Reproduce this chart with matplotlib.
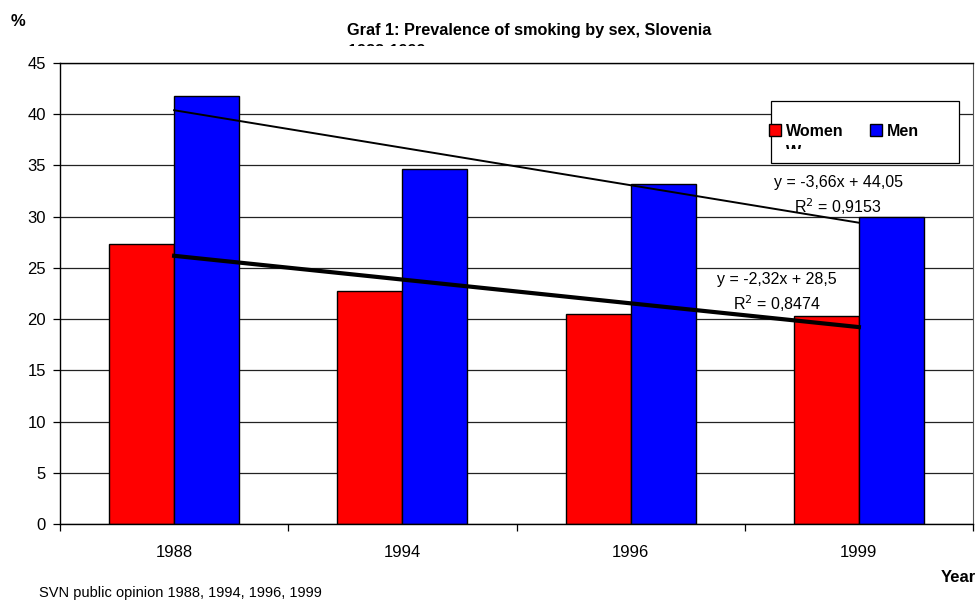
import numpy as np
import matplotlib
matplotlib.use('Agg')
from matplotlib import pyplot as plt
from matplotlib.patches import Rectangle
from matplotlib.transforms import Bbox

plt.rcParams['font.family'] = ['Liberation Sans', 'DejaVu Sans']

years = ['1988', '1994', '1996', '1999']
women = [27.3, 22.7, 20.5, 20.3]
men = [41.8, 34.7, 33.2, 30.0]
# linear trends fitted over x = 1..4
trend_women = (-2.32, 28.5)
trend_men = (-3.66, 44.05)

W, H = 977, 601
fig = plt.figure(figsize=(W / 100, H / 100), dpi=100)
ax = fig.add_axes([60 / W, 77 / H, 913 / W, 461 / H])

x = np.arange(len(years))
w = 0.285
ax.bar(x - w / 2, women, w, color='#ff0000', edgecolor='black', linewidth=1, zorder=2)
ax.bar(x + w / 2, men, w, color='#0000ff', edgecolor='black', linewidth=1, zorder=2)

xt = x + 1
ax.plot(x, trend_men[0] * xt + trend_men[1], color='black', lw=1.4, zorder=3)
ax.plot(x, trend_women[0] * xt + trend_women[1], color='black', lw=3, zorder=3)

ax.set_xlim(-0.5, 3.5)
ax.set_ylim(0, 45)
ax.set_yticks(range(0, 46, 5))
ax.yaxis.grid(True, color='#222222', lw=0.9, zorder=0)
ax.set_axisbelow(True)
ax.set_xticks(x)
ax.set_xticklabels(years)
ax.set_xticks(np.arange(-0.5, 3.6, 1), minor=True)
ax.tick_params(axis='x', which='major', length=0, pad=15, labelsize=12)
ax.tick_params(axis='x', which='minor', length=5, width=0.9)
ax.tick_params(axis='y', length=5, width=0.9, pad=5, labelsize=12)
for side in ['left', 'bottom', 'top']:
    ax.spines[side].set_color('black')
    ax.spines[side].set_linewidth(1)
ax.spines['right'].set_color('#555555')

# trendline equations
ax.text(2.91, 33.3, 'y = -3,66x + 44,05', ha='center', va='center', fontsize=11.5)
ax.text(2.91, 30.95, 'R$^2$ = 0,9153', ha='center', va='center', fontsize=11.5)
ax.text(2.64, 23.9, 'y = -2,32x + 28,5', ha='center', va='center', fontsize=11.5)
ax.text(2.64, 21.5, 'R$^2$ = 0,8474', ha='center', va='center', fontsize=11.5)

# legend: frame drawn separately, entries placed by the legend itself
ax.add_patch(Rectangle((771 / W, 1 - 163 / H), 188 / W, 62 / H,
                       transform=fig.transFigure, fc='white', ec='black',
                       lw=0.9, zorder=5, clip_on=False))
leg = ax.legend(handles=[Rectangle((0, 0), 1, 1, fc='#ff0000', ec='black'),
                         Rectangle((0, 0), 1, 1, fc='#0000ff', ec='black')],
                labels=['Women', 'Men'], ncol=2, loc='center left',
                bbox_to_anchor=(769 / W, 1 - 131 / H),
                bbox_transform=fig.transFigure,
                frameon=False, borderaxespad=0, borderpad=0,
                handlelength=0.75, handleheight=0.8, handletextpad=0.3,
                columnspacing=1.65,
                prop={'weight': 'bold', 'size': 11.5})
leg.set_zorder(6)

wtxt = fig.text(786 / W, 1 - 145 / H, 'W', ha='left', va='top',
                fontsize=11.5, fontweight='bold', zorder=7)
wtxt.set_clip_box(Bbox.from_extents(0, H - 148.5, W, H))
wtxt.set_clip_on(True)

fig.text(529 / W, 1 - 31 / H, 'Graf 1: Prevalence of smoking by sex, Slovenia',
         ha='center', va='center', fontsize=11.7, fontweight='bold')
sub = fig.text(348 / W, 1 - 44 / H, '1988-1999', ha='left', va='top',
               fontsize=11.7, fontweight='bold')
sub.set_clip_box(Bbox.from_extents(0, H - 46, W, H))
sub.set_clip_on(True)

fig.text(11 / W, 1 - 22 / H, '%', ha='left', va='center', fontsize=12, fontweight='bold')
fig.text(976 / W, 1 - 577 / H, 'Year', ha='right', va='center', fontsize=12, fontweight='bold')
fig.text(39 / W, 1 - 593 / H, 'SVN public opinion 1988, 1994, 1996, 1999',
         ha='left', va='center', fontsize=10.5)

fig.savefig('out.png', dpi=100)
